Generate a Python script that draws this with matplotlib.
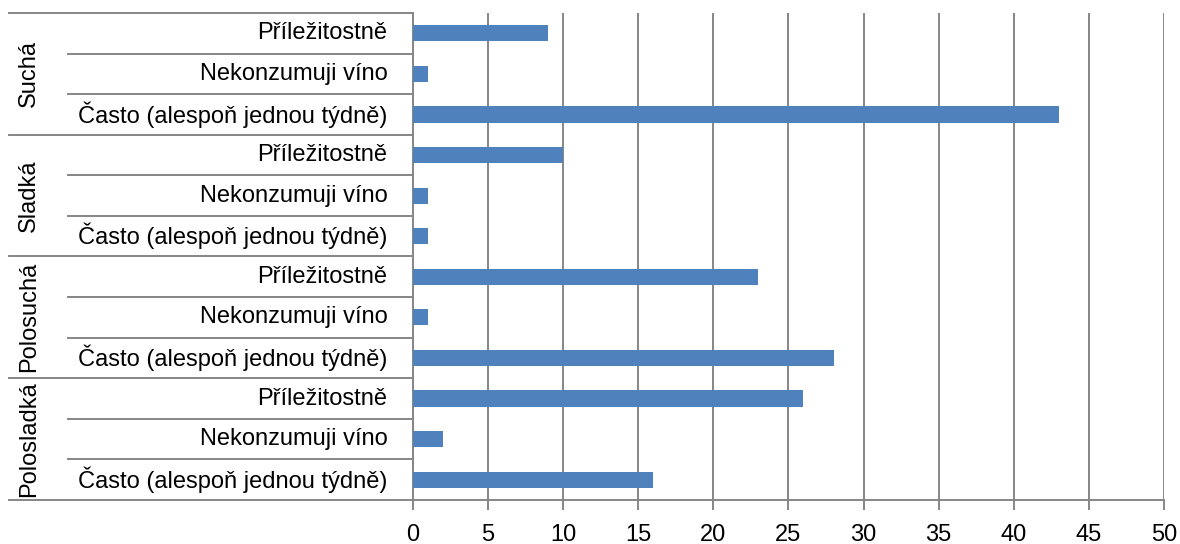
import matplotlib.pyplot as plt
import numpy as np
from matplotlib.transforms import blended_transform_factory

# skupiny vín a odpovědi (shora dolů)
groups = ["Suchá", "Sladká", "Polosuchá", "Polosladká"]
answers = ["Příležitostně", "Nekonzumuji víno", "Často (alespoň jednou týdně)"]
values = {
    "Suchá": [9, 1, 43],
    "Sladká": [10, 1, 1],
    "Polosuchá": [23, 1, 28],
    "Polosladká": [26, 2, 16],
}
xticks = list(range(0, 51, 5))

plt.rcParams["font.family"] = ["Liberation Sans", "DejaVu Sans"]
GRID = "#868686"
BAR = "#4F81BD"
FS = 17

fig = plt.figure(figsize=(11.8, 5.44), dpi=100)
ax = fig.add_axes([0.35, 0.081, 0.6364, 0.895])

n_rows = len(groups) * len(answers)
vals = [v for g in groups for v in values[g]]
labels = [a for g in groups for a in answers]
ypos = np.arange(n_rows)

ax.barh(ypos, vals, height=0.4, color=BAR, zorder=3)
ax.set_ylim(n_rows - 0.5, -0.5)
ax.set_xlim(0, 50)
ax.set_xticks(xticks)
ax.xaxis.grid(True, color=GRID, linewidth=1.4, zorder=0)
ax.tick_params(axis="x", length=7, width=1.4, color=GRID, labelsize=FS, pad=10)
ax.tick_params(axis="y", left=False, labelleft=False)
for side in ("top", "right"):
    ax.spines[side].set_visible(False)
for side in ("left", "bottom"):
    ax.spines[side].set_color(GRID)
    ax.spines[side].set_linewidth(1.4)

tr = blended_transform_factory(ax.transAxes, ax.transData)

# popisky odpovědí
for y, lab in zip(ypos, labels):
    ax.text(-0.034, y, lab, transform=tr, ha="right", va="center", fontsize=FS)

# oddělovače kategorií
for b in range(n_rows + 1):
    yb = b - 0.5
    x0 = -0.538 if b % len(answers) == 0 else -0.459
    ax.plot([x0, 0], [yb, yb], transform=tr, color=GRID, linewidth=1.4,
            clip_on=False)

# názvy skupin svisle
for i, g in enumerate(groups):
    yc = i * len(answers) + 1
    ax.text(-0.511, yc, g, transform=tr, ha="center", va="center",
            rotation=90, fontsize=FS)

fig.savefig("out.png", dpi=100)
